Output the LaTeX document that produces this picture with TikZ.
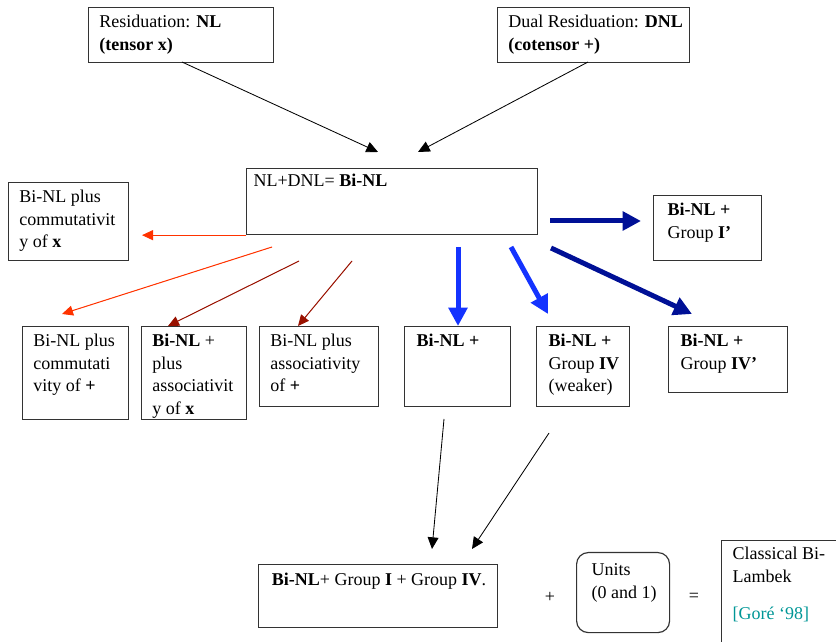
\documentclass[tikz,border=0pt]{standalone}
\usepackage{fontspec}
\setmainfont{Liberation Serif}[BoldFont={Liberation Serif Bold},
  ItalicFont={Liberation Serif Italic}]
\usetikzlibrary{arrows.meta}
\definecolor{lred}{RGB}{255,51,0}
\definecolor{dred}{RGB}{153,17,0}
\definecolor{bblue}{RGB}{20,51,255}
\definecolor{nblue}{RGB}{0,16,150}
\definecolor{citecol}{RGB}{0,150,150}
\newlength{\px}\setlength{\px}{0.6pt}
% box text: [baseline offset][left pad]{width px}{height px}{text}
\NewDocumentCommand{\cell}{O{12pt} O{6.5pt} m m m}{%
  \parbox[t][#4\px][t]{#3\px}{\raggedright\leftskip=#2\relax\rule{0pt}{#1}#5}}

\begin{document}
\begin{tikzpicture}[
  x=0.6pt, y=-0.6pt,
  box/.style={draw=black!80, line width=0.7pt, anchor=north west, inner sep=0pt,
    font=\fontsize{10.8}{13.6}\selectfont},
  sym/.style={font=\fontsize{10.8}{13.6}\selectfont},
  thinarr/.style={-{Triangle[length=7pt,width=6.5pt]}, line width=0.5pt},
  redarr/.style={-{Triangle[length=6.6pt,width=6pt]}, line width=0.6pt, draw=lred, fill=lred},
  dredarr/.style={-{Triangle[length=6.6pt,width=6pt]}, line width=0.6pt, draw=dred, fill=dred},
  bluearr/.style={-{Triangle[length=11pt,width=11pt]}, line width=3pt, draw=bblue, fill=bblue},
  navyarr/.style={-{Triangle[length=11pt,width=11pt]}, line width=3pt, draw=nblue, fill=nblue}
]
  \useasboundingbox (0,0) rectangle (836,642);

  % top row
  \node[box] (res) at (88,7)
    {\cell{185}{55}{Residuation: \textbf{NL}\\\textbf{(tensor x)}}};
  \node[box] (dres) at (497,7)
    {\cell{192}{55}{Dual Residuation: \textbf{DNL}\\\textbf{(cotensor +)}}};

  % middle row
  \node[box] (binl) at (246,168)
    {\cell[11pt][4.2pt]{291}{66}{NL+DNL= \textbf{Bi-NL}}};
  \node[box] (comx) at (8,182)
    {\cell{120}{78}{Bi-NL plus\\commutativit\\y of \textbf{x}}};
  \node[box] (grpi) at (653,195)
    {\cell[12pt][8.4pt]{108}{65}{\textbf{Bi-NL +}\\Group \textbf{I’}}};

  % lower row
  \node[box] (comp) at (22,326)
    {\cell{106}{93}{Bi-NL plus\\commutati\\vity of \textbf{+}}};
  \node[box] (assx) at (141,326)
    {\cell{105}{93}{\textbf{Bi-NL} +\\plus\\associativit\\y of \textbf{x}}};
  \node[box] (assp) at (259,326)
    {\cell{119}{80}{Bi-NL plus\\associativity\\of \textbf{+}}};
  \node[box] (binlp) at (404,326)
    {\cell[12pt][7.2pt]{106}{80}{\textbf{Bi-NL +}}};
  \node[box] (grpiv) at (536,326)
    {\cell[12pt][7.2pt]{93}{80}{\textbf{Bi-NL +}\\Group \textbf{IV}\\(weaker)}};
  \node[box] (grpivp) at (668,326)
    {\cell[12pt][7.2pt]{119}{66}{\textbf{Bi-NL +}\\Group \textbf{IV’}}};

  % bottom row
  \node[box] (result) at (258,564)
    {\cell[12.6pt][8pt]{239}{63}{\textbf{Bi-NL}+ Group \textbf{I} + Group \textbf{IV}.}};
  \node[sym] (plus) at (550,597) {+};
  \node[box, rounded corners=7pt] (units) at (576,552)
    {\cell[14pt][9pt]{93}{80}{Units\\(0 and 1)}};
  \node[sym] (eq) at (694,597) {=};
  \node[box] (classic) at (721,540)
    {\cell[11.4pt][6.6pt]{149}{140}{Classical Bi-\\Lambek\\[9pt]\textcolor{citecol}{[Goré ‘98]}}};

  % connector ends
  \coordinate (resOut) at (182,62);
  \coordinate (resIn) at (378,152);
  \coordinate (dresOut) at (588,62);
  \coordinate (dresIn) at (418,152);
  \coordinate (comxIn) at (142,234);
  \coordinate (compOut) at (272,247);
  \coordinate (compIn) at (62,314);
  \coordinate (assxOut) at (299,261);
  \coordinate (assxIn) at (168,326);
  \coordinate (asspOut) at (352,261);
  \coordinate (asspIn) at (298,326);
  \coordinate (binlpOut) at (458,247);
  \coordinate (binlpIn) at (458,326);
  \coordinate (grpivOut) at (511,247);
  \coordinate (grpivIn) at (548,314);
  \coordinate (grpiOut) at (550,221);
  \coordinate (grpiIn) at (641,221);
  \coordinate (grpivpOut) at (551,248);
  \coordinate (grpivpIn) at (692,314);
  \coordinate (leftOut) at (444,419);
  \coordinate (leftIn) at (432,549);
  \coordinate (rightOut) at (549,433);
  \coordinate (rightIn) at (472,549);

  % arrows
  \draw[thinarr] (resOut) -- (resIn);
  \draw[thinarr] (dresOut) -- (dresIn);
  \draw[redarr] (binl.south west) -- (comxIn |- binl.south west);
  \draw[redarr] (compOut) -- (compIn);
  \draw[dredarr] (assxOut) -- (assxIn);
  \draw[dredarr] (asspOut) -- (asspIn);
  \draw[bluearr] (binlpOut) -- (binlpIn);
  \draw[bluearr] (grpivOut) -- (grpivIn);
  \draw[navyarr] (grpiOut) -- (grpiIn);
  \draw[navyarr] (grpivpOut) -- (grpivpIn);
  \draw[thinarr] (leftOut) -- (leftIn);
  \draw[thinarr] (rightOut) -- (rightIn);
\end{tikzpicture}
\end{document}
